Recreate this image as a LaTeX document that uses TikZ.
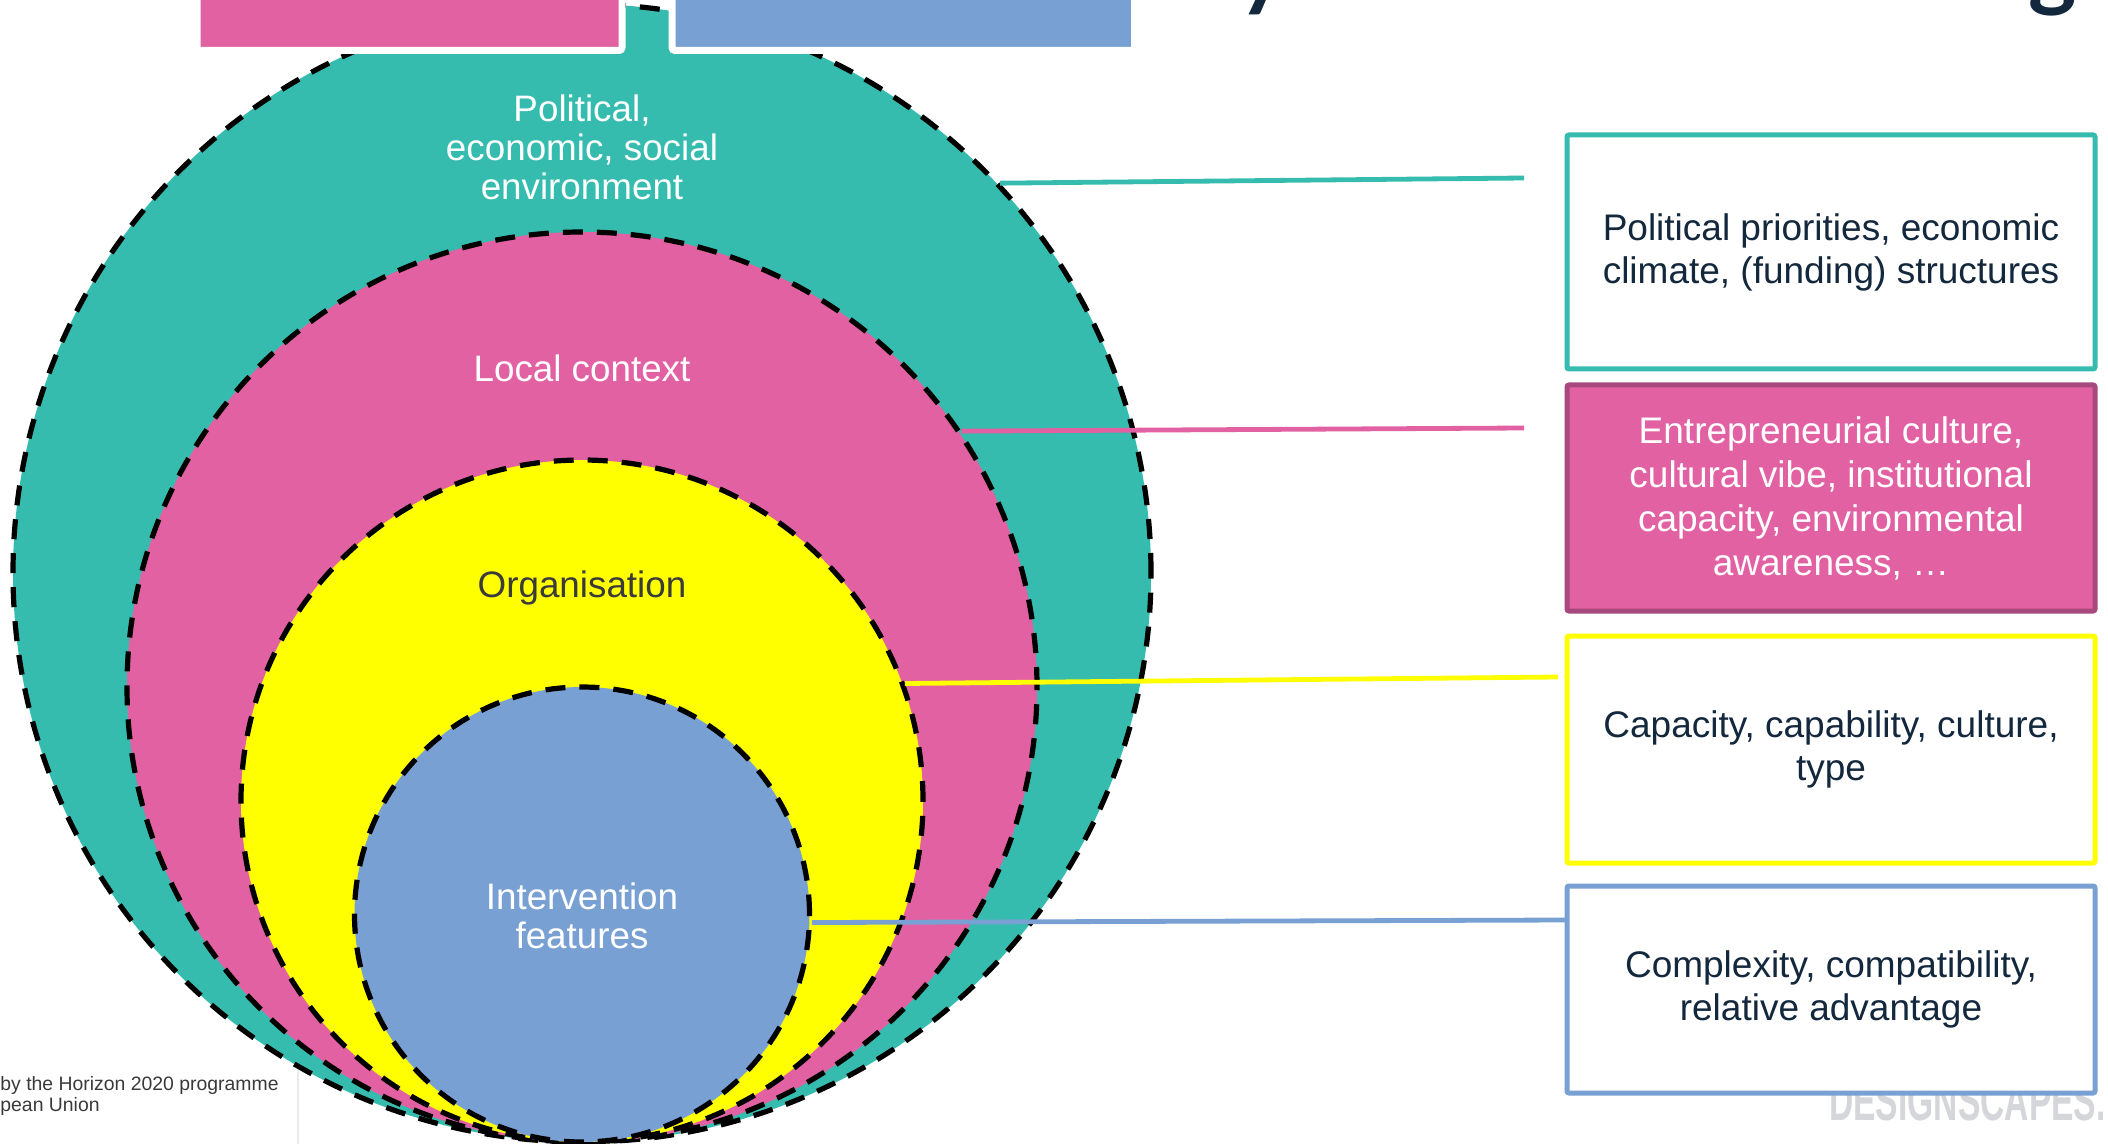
\documentclass[tikz,border=0pt]{standalone}
\usepackage{fontspec}
\setmainfont{Liberation Sans}
\newfontfamily\titlefont{Lato}
\usetikzlibrary{shadows}
\definecolor{cteal}{HTML}{36BCAE}
\definecolor{cpink}{HTML}{E261A3}
\definecolor{cyel}{HTML}{FFFF00}
\definecolor{cblue}{HTML}{78A0D3}
\definecolor{cpinkdark}{HTML}{A8497E}
\definecolor{cnavy}{HTML}{13273D}
\definecolor{cwater}{HTML}{D4D6D9}
\definecolor{cdark}{HTML}{3A3A3A}
\begin{document}
\begin{tikzpicture}[x=0.5pt,y=-0.5pt,
  ring/.style={circle, inner sep=0pt, draw=black, line width=2.6pt, dash pattern=on 10pt off 7pt},
  ringlabel/.style={align=center, text=white, font=\fontsize{18.4}{19.5}\selectfont, inner sep=0pt},
  infobox/.style={rectangle, minimum width=264pt, line width=2.5pt, rounded corners=1pt, align=center, font=\fontsize{18.5}{21.5}\selectfont, text=cnavy, inner sep=0pt},
  link/.style={line width=2.4pt},
  topbox/.style={rectangle, draw=white, line width=3.5pt, rounded corners=1.5pt, inner sep=0pt, drop shadow={opacity=0.25, shadow xshift=0.8pt, shadow yshift=-1.5pt}}]
\useasboundingbox (0,0) rectangle (2108,1144);
\clip (0,0) rectangle (2108,1144);
\fill[white] (0,0) rectangle (2108,1144);

% title fragments (cut off at the top edge)
\node[anchor=base west, font=\titlefont\bfseries\fontsize{46}{46}\selectfont, text=cnavy, inner sep=0pt] (titley) at (1238,0) {y};
\node[anchor=base west, font=\titlefont\bfseries\fontsize{46}{46}\selectfont, text=cnavy, inner sep=0pt] (titleg) at (2028,0) {g};

% nested circles
\node[ring, fill=cteal, minimum size=569pt] (teal) at (582,573) {};
\node[ring, fill=cpink, minimum size=455pt] (pink) at (582,687) {};
\node[ring, fill=cyel, minimum size=341pt] (yel) at (582,801) {};
\node[ring, fill=cblue, minimum size=227.5pt] (blue) at (582,914.5) {};

\node[ringlabel] (tealtxt) at (582,147) {Political,\\economic, social\\environment};
\node[ringlabel] (pinktxt) at (582,368) {Local context};
\node[ringlabel, text=cdark] (yeltxt) at (582,588) {Organisation};
\node[ringlabel] (bluetxt) at (582,916) {Intervention\\features};

% top boxes
\node[topbox, fill=cpink, minimum width=212.5pt, minimum height=40pt] (toppink) at (409.5,10.5) {};
\node[topbox, fill=cblue, minimum width=231.25pt, minimum height=40pt] (topblue) at (903.25,10.5) {};

% watermark
\node[anchor=base east, font=\bfseries\fontsize{28}{28}\selectfont, text=cwater, inner sep=0pt] (wmark) at (2106,1120) {\scalebox{0.6}[1]{DESIGNSCAPES.}};

% connectors
\coordinate (tealend) at (1524,178);
\coordinate (pinkend) at (1524,428);
\coordinate (yelend) at (1558,677);
\coordinate (blueend) at (1567,920);
\draw[link, cteal] (teal.43) -- (tealend);
\draw[link, cpink] (pink.34) -- (pinkend);
\draw[link, cyel] (yel.20) -- (yelend);
\draw[link, cblue] (blue.-2) -- (blueend);

% info boxes
\node[infobox, draw=cteal, fill=white, minimum height=117pt] (tealbox) at (1831,252) {Political priorities, economic\\climate, (funding) structures};
\node[infobox, draw=cpinkdark, fill=cpink, text=white, minimum height=113pt, font=\fontsize{18.5}{22}\selectfont] (pinkbox) at (1831,498) {Entrepreneurial culture,\\cultural vibe, institutional\\capacity, environmental\\awareness, …};
\node[infobox, draw=cyel, fill=white, minimum height=113.5pt] (yelbox) at (1831,749.5) {Capacity, capability, culture,\\type};
\node[infobox, draw=cblue, fill=white, minimum height=103.5pt] (bluebox) at (1831,989.5) {Complexity, compatibility,\\relative advantage};

% funding note (cut off at the left edge)
\node[anchor=base west, font=\fontsize{9.7}{10.5}\selectfont, text=cdark, inner sep=0pt] (fund1) at (0,1090) {by the Horizon 2020 programme};
\node[anchor=base west, font=\fontsize{9.7}{10.5}\selectfont, text=cdark, inner sep=0pt] (fund2) at (0,1111) {pean Union};
\draw[black!8, line width=0.6pt] (298,1070) -- (298,1144);
\end{tikzpicture}
\end{document}
